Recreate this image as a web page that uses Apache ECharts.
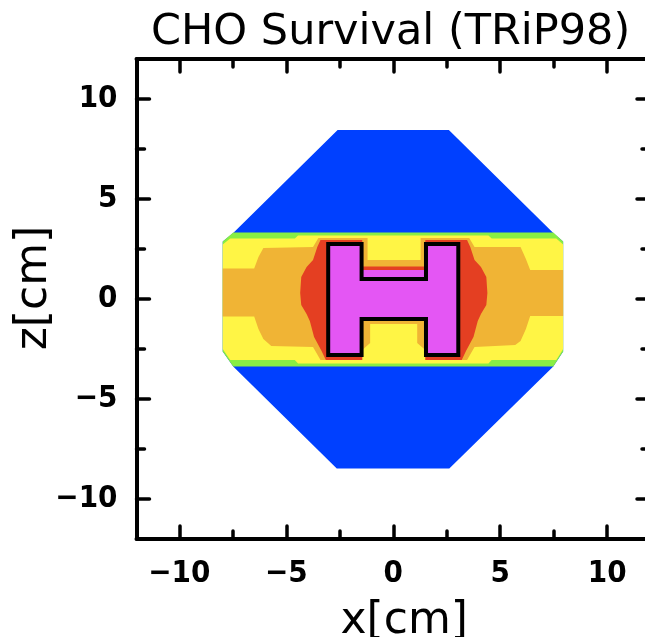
<!DOCTYPE html>
<html>
<head>
<meta charset="utf-8">
<script src="https://cdn.jsdelivr.net/npm/echarts@6/dist/echarts.min.js"></script>
<style>
  html, body { margin: 0; padding: 0; background: #ffffff; }
  #chart { width: 645px; height: 637px; }
</style>
</head>
<body>
<div id="chart"></div>
<script>
// Axis setup (cm)
const TITLE = 'CHO Survival (TRiP98)';
const X_NAME = 'x[cm]';
const Z_NAME = 'z[cm]';
const AXIS_MIN = -12;
const AXIS_MAX = 12;
const MAJOR_TICKS = [-10, -5, 0, 5, 10];
const MINOR_TICKS = [-7.5, -2.5, 2.5, 7.5];

// Survival-level contours in the x-z plane, [x, z] in cm, outermost first.
const levelBlue = [
  [-2.6, 8.45], [2.6, 8.45], [7.48, 3.3], [7.94, 2.87], [7.94, -2.63], [7.48, -3.38],
  [2.62, -8.47], [-2.64, -8.47], [-7.48, -3.38], [-7.97, -2.63], [-7.97, 2.87], [-7.48, 3.3]
];
const levelGreen = [
  [-7.97, 2.87], [-7.48, 3.32], [7.48, 3.32], [7.94, 2.87],
  [7.94, -2.63], [7.48, -3.38], [-7.48, -3.38], [-7.97, -2.63]
];
const levelYellow = [
  [-7.97, 2.72], [-7.62, 3.02], [-4.6, 3.02], [-4.45, 3.18], [4.45, 3.18], [4.6, 3.02],
  [7.62, 3.02], [7.94, 2.72], [7.94, -2.5], [7.62, -3.05], [4.6, -3.05], [4.45, -3.22],
  [-4.45, -3.22], [-4.6, -3.05], [-7.62, -3.05], [-7.97, -2.5]
];
const levelOrange = [
  [-7.97, 1.53], [-6.5, 1.53], [-6.3, 2.1], [-6.07, 2.55], [-3.75, 2.6], [-3.5, 3.05],
  [-1.2, 3.05], [-1.2, 1.95], [1.28, 1.95], [1.28, 3.05], [3.55, 3.05], [3.8, 2.6],
  [5.95, 2.6], [6.2, 2.0], [6.4, 1.45], [7.94, 1.45],
  [7.94, -0.85], [6.4, -0.85], [6.2, -1.5], [5.95, -2.1], [5.7, -2.3], [3.8, -2.4],
  [3.45, -3.05], [1.5, -3.05], [1.5, -2.55], [1.12, -2.2], [1.12, -1.25], [-1.08, -1.25],
  [-1.08, -2.2], [-1.45, -2.55], [-1.45, -3.05], [-3.4, -3.05], [-3.75, -2.4], [-5.7, -2.35],
  [-6.07, -2.0], [-6.3, -1.5], [-6.5, -0.88], [-7.97, -0.88]
];
const levelRedLeft = [
  [-1.45, 2.95], [-3.4, 2.95], [-3.55, 2.6], [-3.75, 1.95], [-4.05, 1.6], [-4.3, 1.1],
  [-4.35, 0.3], [-4.3, -0.3], [-4.05, -0.75], [-3.9, -1.1], [-3.7, -1.9], [-3.35, -2.6],
  [-3.15, -3.05], [-1.45, -3.05]
];
const levelRedRight = [
  [1.5, 2.95], [3.45, 2.95], [3.6, 2.6], [3.8, 1.95], [4.1, 1.6], [4.35, 1.1],
  [4.4, 0.3], [4.35, -0.3], [4.1, -0.75], [3.95, -1.1], [3.75, -1.9], [3.4, -2.6],
  [3.2, -3.05], [1.5, -3.05]
];
const levelRedMiddle = [[-1.5, 1.62], [1.53, 1.62], [1.53, 0.9], [-1.5, 0.9]];
const levelMagenta = [
  [-3.04, 2.75], [-1.48, 2.75], [-1.48, 1.45], [1.53, 1.45], [1.53, 2.75], [3.04, 2.75],
  [3.04, -2.8], [1.53, -2.8], [1.53, -1.0], [-1.48, -1.0], [-1.48, -2.8], [-3.04, -2.8]
];
// H-shaped target volume
const targetOutline = [
  [-3.04, 2.75], [-1.48, 2.75], [-1.48, 1.0], [1.53, 1.0], [1.53, 2.75], [3.04, 2.75],
  [3.04, -2.8], [1.53, -2.8], [1.53, -1.0], [-1.48, -1.0], [-1.48, -2.8], [-3.04, -2.8]
];

// Each contour is one custom series; vertices go through the grid's scales.
function contour(name, verts, fill, stroke, lineWidth) {
  return {
    type: 'custom',
    name: name,
    coordinateSystem: 'cartesian2d',
    xAxisIndex: 0,
    yAxisIndex: 0,
    silent: true,
    clip: true,
    data: verts,
    renderItem: function (params, api) {
      if (params.dataIndex !== 0) return null;
      const pts = verts.map(function (v) { return api.coord(v); });
      return {
        type: 'polygon',
        shape: { points: pts },
        style: {
          fill: fill,
          stroke: stroke || null,
          lineWidth: lineWidth || 0,
          lineJoin: 'miter'
        }
      };
    }
  };
}

const INK = '#000000';
const tickFont = {
  color: INK,
  fontFamily: "'DejaVu Sans Condensed', 'Liberation Sans Narrow', 'Liberation Sans', sans-serif",
  fontWeight: 'bold',
  fontSize: 31
};
const nameFont = {
  color: INK,
  fontFamily: "'DejaVu Sans', sans-serif",
  fontSize: 44
};
const minusSign = function (v) { return String(v).replace('-', '\u2212'); };

function frameAxis(position, ticks, tickLen, withLine, withLabels, extra) {
  const ax = {
    type: 'value',
    position: position,
    min: AXIS_MIN,
    max: AXIS_MAX,
    axisLine: { show: withLine, onZero: false, lineStyle: { color: INK, width: 4, cap: 'round' } },
    axisTick: {
      show: true, inside: true, length: tickLen, customValues: ticks,
      lineStyle: { color: INK, width: 3.5, cap: 'round' }
    },
    axisLabel: withLabels
      ? Object.assign({ show: true, customValues: ticks, margin: 19, formatter: minusSign }, tickFont)
      : { show: false },
    splitLine: { show: false },
    minorTick: { show: false }
  };
  return Object.assign(ax, extra || {});
}

const chart = echarts.init(document.getElementById('chart'), null, { renderer: 'canvas' });
chart.setOption({
  backgroundColor: '#ffffff',
  animation: false,
  title: {
    text: TITLE,
    left: 146,
    top: 6,
    textStyle: { color: INK, fontFamily: "'DejaVu Sans', sans-serif", fontWeight: 'normal', fontSize: 43 }
  },
  grid: { left: 136.5, right: -5, top: 59, bottom: 98, containLabel: false, outerBoundsMode: 'none' },
  xAxis: [
    frameAxis('bottom', MAJOR_TICKS, 13, true, true, {
      name: X_NAME, nameLocation: 'middle', nameGap: 61, nameMoveOverlap: false,
      nameTextStyle: Object.assign({ padding: [0, 0, 0, 22] }, nameFont)
    }),
    frameAxis('bottom', MINOR_TICKS, 8, false, false),
    frameAxis('top', MAJOR_TICKS, 13, true, false),
    frameAxis('top', MINOR_TICKS, 8, false, false)
  ],
  yAxis: [
    frameAxis('left', MAJOR_TICKS, 13, true, true, {
      name: Z_NAME, nameLocation: 'middle', nameGap: 80, nameRotate: 90, nameMoveOverlap: false,
      nameTextStyle: Object.assign({ padding: [0, 0, 0, 22] }, nameFont)
    }),
    frameAxis('left', MINOR_TICKS, 8, false, false),
    frameAxis('right', MAJOR_TICKS, 13, true, false),
    frameAxis('right', MINOR_TICKS, 8, false, false)
  ],
  series: [
    contour('S1', levelBlue, '#0040FF'),
    contour('S2', levelGreen, '#88EE44'),
    contour('S3', levelYellow, '#FFF545'),
    contour('S4', levelOrange, '#F0B435'),
    contour('S5a', levelRedLeft, '#E43F22'),
    contour('S5b', levelRedRight, '#E43F22'),
    contour('S5c', levelRedMiddle, '#E43F22'),
    contour('S6', levelMagenta, '#E456F4'),
    contour('Target', targetOutline, 'none', INK, 4)
  ]
});
</script>
</body>
</html>
